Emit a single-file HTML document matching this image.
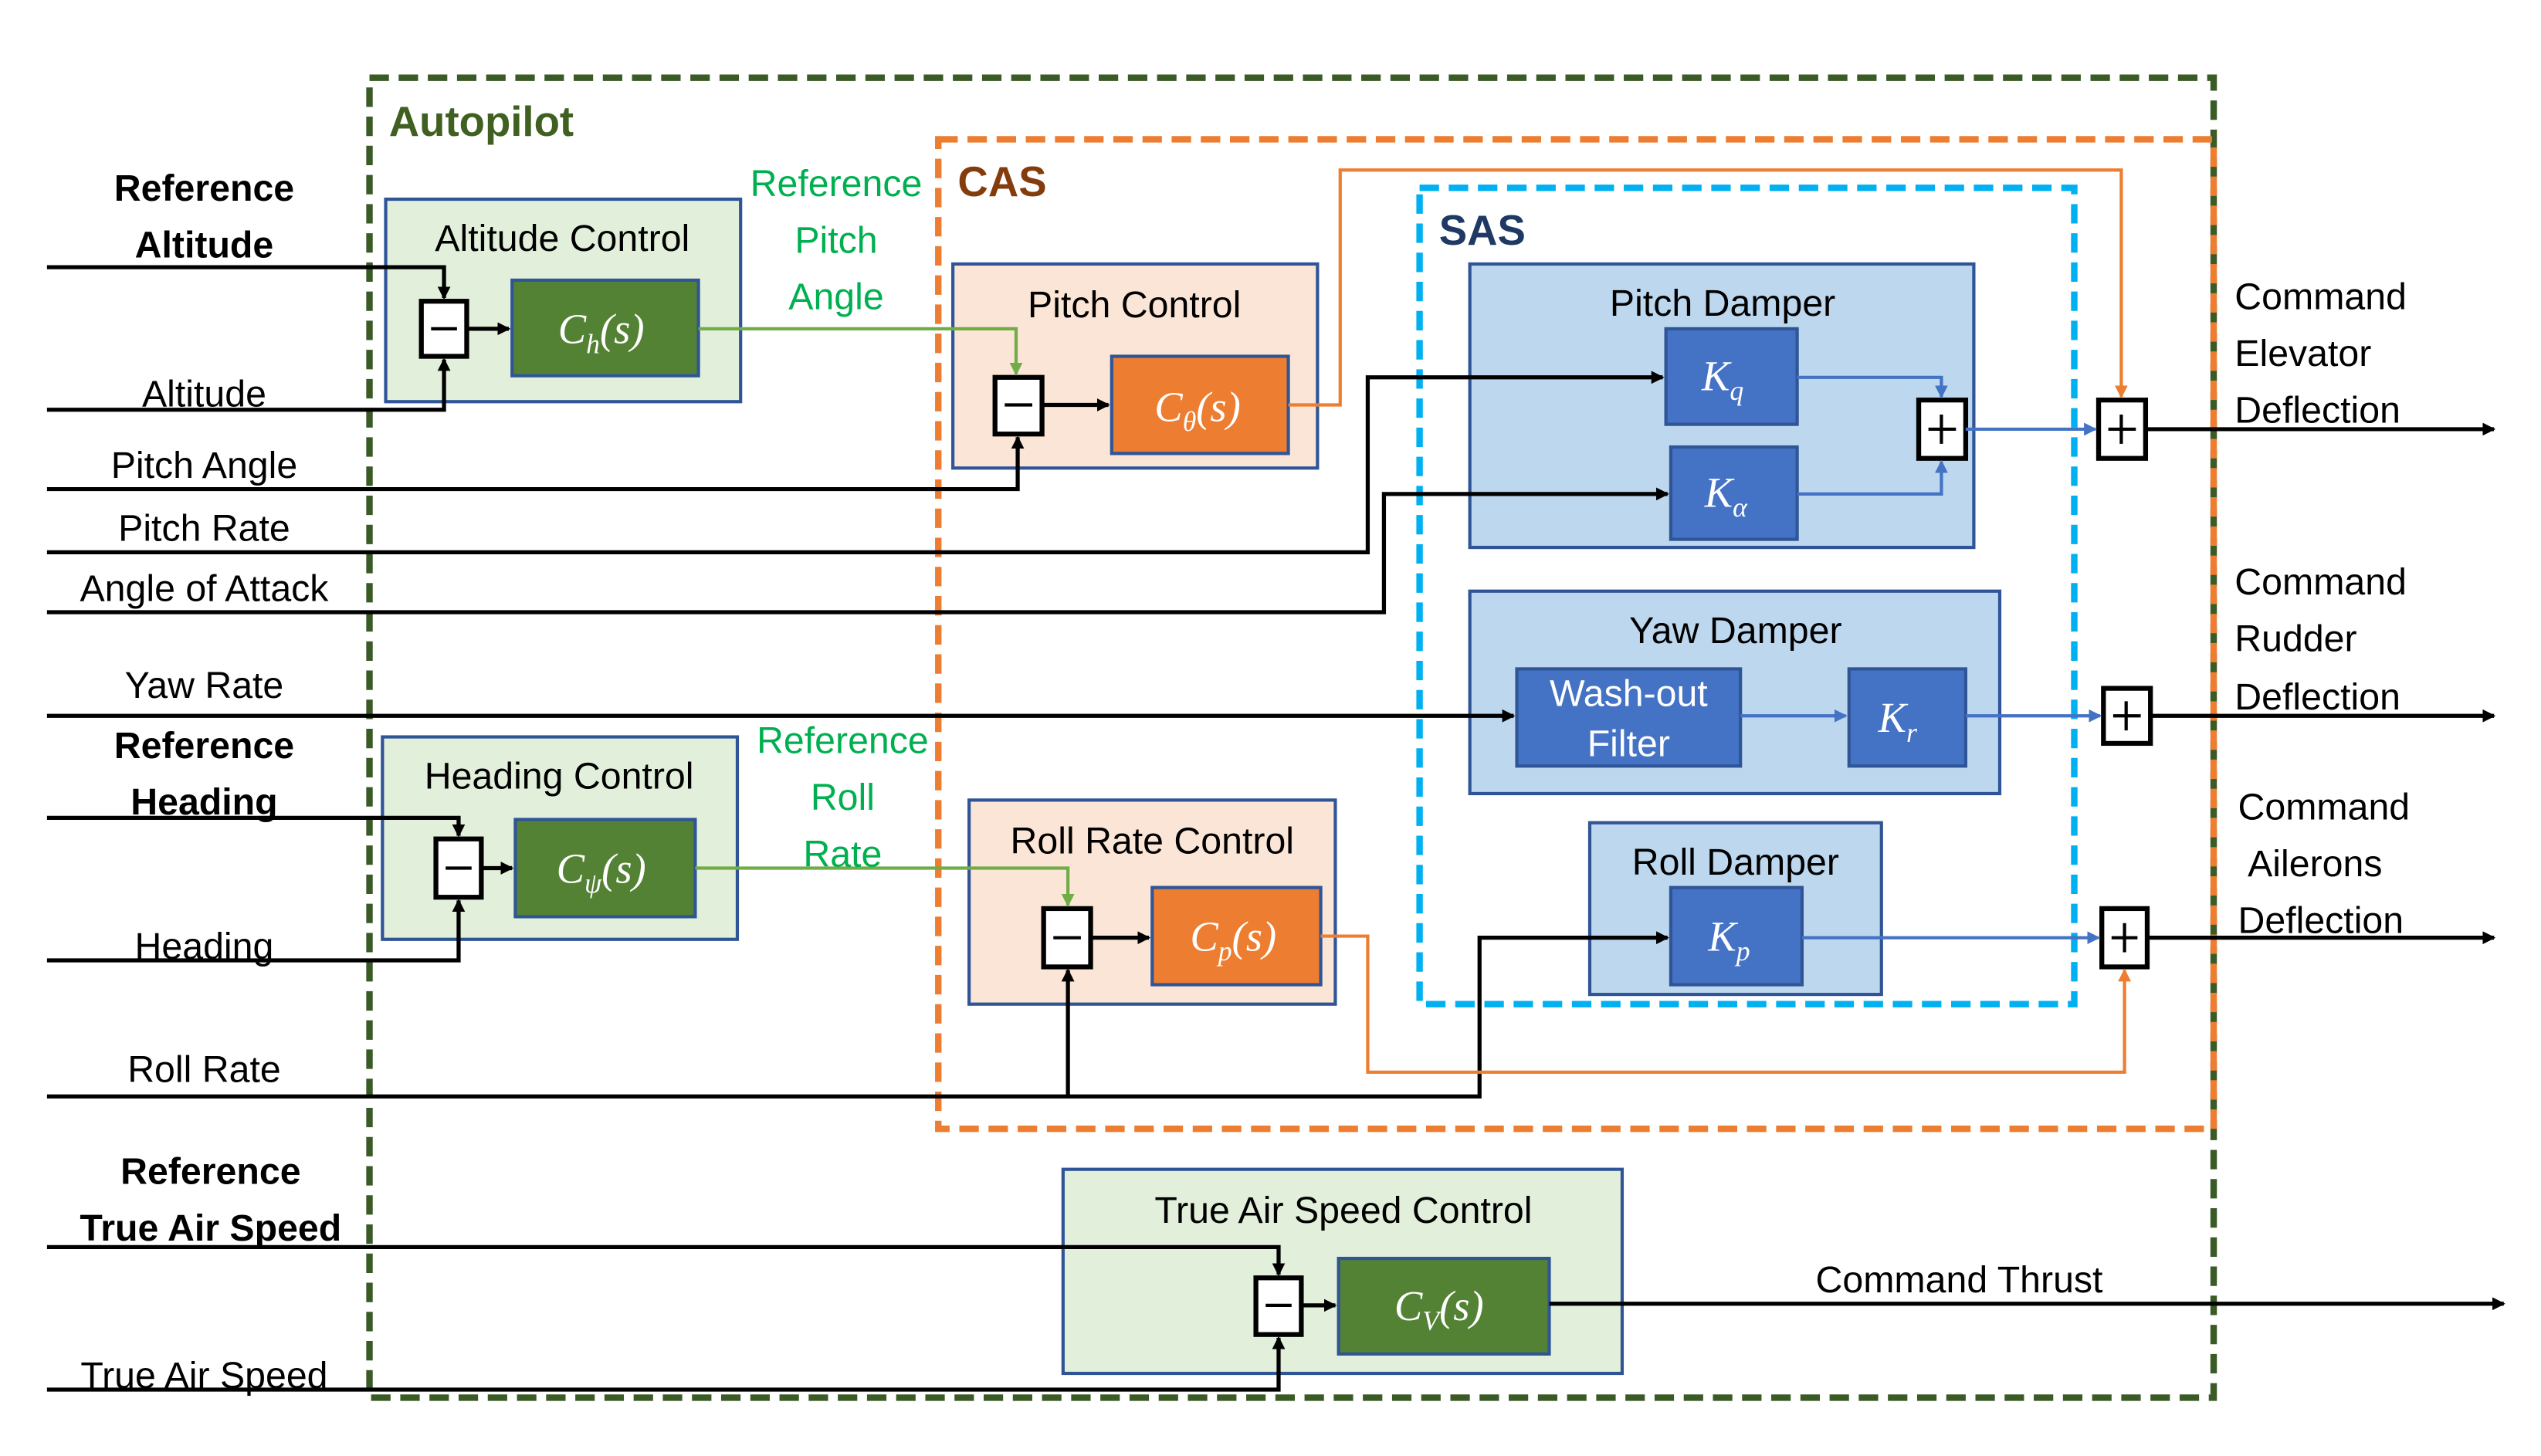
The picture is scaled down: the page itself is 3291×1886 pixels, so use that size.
<!DOCTYPE html>
<html><head><meta charset="utf-8"><style>
html,body{margin:0;padding:0;background:#fff;}
svg{display:block;}
text{font-family:"Liberation Sans",sans-serif;}
.t{font-size:23px;fill:#000;text-anchor:middle;}
.b{font-weight:bold;}
.m{font-family:"Liberation Serif",serif;font-style:italic;font-size:26px;fill:#fff;text-anchor:middle;}
</style></head><body>
<svg width="3291" height="1886" viewBox="1 0 1568 899" preserveAspectRatio="none" xmlns="http://www.w3.org/2000/svg">
<defs>
<marker id="ak" markerWidth="8" markerHeight="8" refX="7" refY="4" orient="auto" markerUnits="userSpaceOnUse"><path d="M0,0L8,4L0,8z" fill="#000"/></marker>
<marker id="ag" markerWidth="8" markerHeight="8" refX="7" refY="4" orient="auto" markerUnits="userSpaceOnUse"><path d="M0,0L8,4L0,8z" fill="#70ad47"/></marker>
<marker id="ao" markerWidth="8" markerHeight="8" refX="7" refY="4" orient="auto" markerUnits="userSpaceOnUse"><path d="M0,0L8,4L0,8z" fill="#ed7d31"/></marker>
<marker id="ab" markerWidth="8" markerHeight="8" refX="7" refY="4" orient="auto" markerUnits="userSpaceOnUse"><path d="M0,0L8,4L0,8z" fill="#4472c4"/></marker>
</defs>
<rect x="229" y="48" width="1138" height="815" fill="none" stroke="#3a5a26" stroke-width="4" stroke-dasharray="12,6"/>
<text x="241" y="84" style="font-size:26px;font-weight:bold;fill:#3f6020">Autopilot</text>
<rect x="580" y="86" width="787" height="611" fill="none" stroke="#ed7d31" stroke-width="4" stroke-dasharray="12,6"/>
<text x="592" y="121" style="font-size:26px;font-weight:bold;fill:#843c0c">CAS</text>
<rect x="877" y="116" width="404" height="504" fill="none" stroke="#00b0f0" stroke-width="4" stroke-dasharray="12,6"/>
<text x="889" y="151" style="font-size:26px;font-weight:bold;fill:#1f3864">SAS</text>

<g stroke="#2f5597" stroke-width="2">
<rect x="239" y="123" width="219" height="125" fill="#e2efda"/>
<rect x="317" y="173" width="115" height="59" fill="#548235"/>
<rect x="589" y="163" width="225" height="126" fill="#fbe5d6"/>
<rect x="687" y="220" width="109" height="60" fill="#ed7d31"/>
<rect x="237" y="455" width="219" height="125" fill="#e2efda"/>
<rect x="319" y="506" width="111" height="60" fill="#548235"/>
<rect x="599" y="494" width="226" height="126" fill="#fbe5d6"/>
<rect x="712" y="548" width="104" height="60" fill="#ed7d31"/>
<rect x="657" y="722" width="345" height="126" fill="#e2efda"/>
<rect x="827" y="777" width="130" height="59" fill="#548235"/>
<rect x="908" y="163" width="311" height="175" fill="#bdd7ee"/>
<rect x="1029" y="203" width="81" height="59" fill="#4472c4"/>
<rect x="1032" y="276" width="78" height="57" fill="#4472c4"/>
<rect x="908" y="365" width="327" height="125" fill="#bdd7ee"/>
<rect x="937" y="413" width="138" height="60" fill="#4472c4"/>
<rect x="1142" y="413" width="72" height="60" fill="#4472c4"/>
<rect x="982" y="508" width="180" height="106" fill="#bdd7ee"/>
<rect x="1032" y="548" width="81" height="60" fill="#4472c4"/>
</g>
<text class="t" x="348" y="155">Altitude Control</text>
<text class="t" x="701" y="196">Pitch Control</text>
<text class="t" x="346" y="487">Heading Control</text>
<text class="t" x="712" y="527">Roll Rate Control</text>
<text class="t" x="830" y="755">True Air Speed Control</text>
<text class="t" x="1064" y="195">Pitch Damper</text>
<text class="t" x="1072" y="397">Yaw Damper</text>
<text class="t" x="1072" y="540">Roll Damper</text>
<text class="t" x="1006" y="436" style="fill:#fff">Wash-out</text>
<text class="t" x="1006" y="467" style="fill:#fff">Filter</text>
<text class="m" x="372" y="212">C<tspan font-size="17" dy="6">h</tspan><tspan dy="-6">(s)</tspan></text>
<text class="m" x="740" y="260">C<tspan font-size="17" dy="6">θ</tspan><tspan dy="-6">(s)</tspan></text>
<text class="m" x="372" y="545">C<tspan font-size="17" dy="6">ψ</tspan><tspan dy="-6">(s)</tspan></text>
<text class="m" x="762" y="587">C<tspan font-size="17" dy="6">p</tspan><tspan dy="-6">(s)</tspan></text>
<text class="m" x="889" y="815">C<tspan font-size="17" dy="6">V</tspan><tspan dy="-6">(s)</tspan></text>
<text class="m" x="1064" y="241">K<tspan font-size="17" dy="6">q</tspan></text>
<text class="m" x="1066" y="313">K<tspan font-size="17" dy="6">α</tspan></text>
<text class="m" x="1172" y="452">K<tspan font-size="17" dy="6">r</tspan></text>
<text class="m" x="1068" y="587">K<tspan font-size="17" dy="6">p</tspan></text>

<g stroke="#000" stroke-width="3" fill="#fff">
<rect x="261" y="186" width="28" height="34"/>
<rect x="615" y="233" width="29" height="35"/>
<rect x="270" y="518" width="28" height="36"/>
<rect x="645" y="561" width="29" height="36"/>
<rect x="776" y="789" width="28" height="35"/>
<rect x="1185" y="247" width="29" height="36"/>
<rect x="1296" y="247" width="29" height="36"/>
<rect x="1299" y="425" width="29" height="34"/>
<rect x="1298" y="561" width="28" height="36"/>
</g>
<g stroke="#000" stroke-width="2">
<path d="M267,203h16M621,250h17M276,536h16M651,579h17M782,806h16"/>
<path d="M1191,265h17M1199,256v18M1302,265h17M1310,256v18M1305,442h17M1313,433v18M1304,579h16M1312,570v18"/>
</g>

<g stroke="#000" stroke-width="2.5" fill="none">
<path d="M30,165H275V184" marker-end="url(#ak)"/>
<path d="M30,253H275V222" marker-end="url(#ak)"/>
<path d="M289,203H315" marker-end="url(#ak)"/>
<path d="M30,302H629V270" marker-end="url(#ak)"/>
<path d="M644,250H685" marker-end="url(#ak)"/>
<path d="M30,341H845V233H1027" marker-end="url(#ak)"/>
<path d="M30,378H855V305H1030" marker-end="url(#ak)"/>
<path d="M30,442H935" marker-end="url(#ak)"/>
<path d="M30,505H284V516" marker-end="url(#ak)"/>
<path d="M30,593H284V556" marker-end="url(#ak)"/>
<path d="M298,536H317" marker-end="url(#ak)"/>
<path d="M30,677H914V579H1030" marker-end="url(#ak)"/>
<path d="M660,677V599" marker-end="url(#ak)"/>
<path d="M674,579H710" marker-end="url(#ak)"/>
<path d="M30,770H790V787" marker-end="url(#ak)"/>
<path d="M30,858H790V826" marker-end="url(#ak)"/>
<path d="M804,806H825" marker-end="url(#ak)"/>
<path d="M957,805H1546" marker-end="url(#ak)"/>
<path d="M1325,265H1540" marker-end="url(#ak)"/>
<path d="M1328,442H1540" marker-end="url(#ak)"/>
<path d="M1326,579H1540" marker-end="url(#ak)"/>
</g>
<g stroke="#70ad47" stroke-width="2" fill="none">
<path d="M432,203H628V231" marker-end="url(#ag)"/>
<path d="M430,536H660V559" marker-end="url(#ag)"/>
</g>
<g stroke="#ed7d31" stroke-width="2" fill="none">
<path d="M796,250H828V105H1310V245" marker-end="url(#ao)"/>
<path d="M816,578H845V662H1312V599" marker-end="url(#ao)"/>
</g>
<g stroke="#4472c4" stroke-width="2" fill="none">
<path d="M1110,233H1199V245" marker-end="url(#ab)"/>
<path d="M1110,305H1199V285" marker-end="url(#ab)"/>
<path d="M1214,265H1294" marker-end="url(#ab)"/>
<path d="M1075,442H1140" marker-end="url(#ab)"/>
<path d="M1214,442H1297" marker-end="url(#ab)"/>
<path d="M1113,579H1296" marker-end="url(#ab)"/>
</g>

<text class="t b" x="127" y="124">Reference</text>
<text class="t b" x="127" y="159">Altitude</text>
<text class="t" x="127" y="251">Altitude</text>
<text class="t" x="127" y="295">Pitch Angle</text>
<text class="t" x="127" y="334">Pitch Rate</text>
<text class="t" x="127" y="371">Angle of Attack</text>
<text class="t" x="127" y="431">Yaw Rate</text>
<text class="t b" x="127" y="468">Reference</text>
<text class="t b" x="127" y="503">Heading</text>
<text class="t" x="127" y="592">Heading</text>
<text class="t" x="127" y="668">Roll Rate</text>
<text class="t b" x="131" y="731">Reference</text>
<text class="t b" x="131" y="766">True Air Speed</text>
<text class="t" x="127" y="857">True Air Speed</text>
<text class="t" style="fill:#00b050" x="517" y="121">Reference</text>
<text class="t" style="fill:#00b050" x="517" y="156">Pitch</text>
<text class="t" style="fill:#00b050" x="517" y="191">Angle</text>
<text class="t" style="fill:#00b050" x="521" y="465">Reference</text>
<text class="t" style="fill:#00b050" x="521" y="500">Roll</text>
<text class="t" style="fill:#00b050" x="521" y="535">Rate</text>
<g style="font-size:23px">
<text x="1380" y="191">Command</text>
<text x="1380" y="226">Elevator</text>
<text x="1380" y="261">Deflection</text>
<text x="1380" y="367">Command</text>
<text x="1380" y="402">Rudder</text>
<text x="1380" y="438">Deflection</text>
<text x="1382" y="506">Command</text>
<text x="1388" y="541">Ailerons</text>
<text x="1382" y="576">Deflection</text>
</g>
<text class="t" x="1210" y="798">Command Thrust</text>
</svg>
</body></html>
